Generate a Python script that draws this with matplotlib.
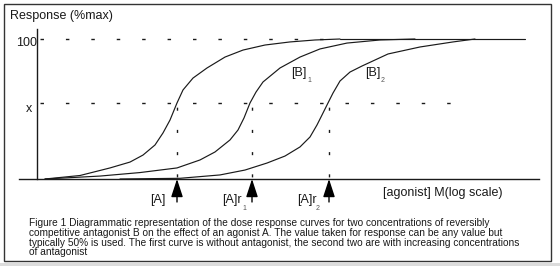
import matplotlib
matplotlib.use("Agg")
import matplotlib.pyplot as plt
from matplotlib.patches import Rectangle

plt.rcParams['font.family'] = ['Liberation Sans', 'DejaVu Sans']
plt.rcParams['lines.scale_dashes'] = False

# ---- data (x: log[agonist], arbitrary units; y: response %max) ----
curve1_x = [45, 80, 110, 130, 143, 155, 163, 170, 177, 183, 193, 207, 225, 243, 265, 290, 315, 340]
curve1_y = [0, 2.5, 7.9, 12.1, 17.1, 24.3, 32.9, 42.1, 54.3, 63.6, 72.1, 79.3, 87.1, 92.1, 95.7, 97.9, 99.3, 100]

curve2_x = [45, 100, 140, 177, 200, 215, 230, 238, 244, 250, 256, 263, 280, 300, 320, 347, 380, 415]
curve2_y = [0, 2.1, 4.6, 7.9, 13.6, 19.3, 27.9, 35, 43.6, 54.3, 62.1, 69.3, 79.3, 87.1, 92.9, 97.1, 99.3, 100]

curve3_x = [120, 180, 220, 245, 267, 285, 300, 310, 317, 322, 328, 333, 340, 350, 362, 388, 420, 453, 475]
curve3_y = [0, 0.5, 2.9, 6.4, 11.4, 16.4, 22.9, 30, 38.6, 45.7, 54.3, 61.4, 70, 76.4, 80.7, 89.3, 94.3, 97.9, 100]

plateau_x = [340, 525]
plateau_y = [100, 100]

max_level = 100
x_level = 54
x_level_end = 462
conc_points = [177, 252, 329]          # [A], [A]r1, [A]r2
conc_labels = ["[A]", "[A]r", "[A]r"]
conc_subs = ["", "1", "2"]
curve_labels = ["[B]", "[B]"]
curve_subs = ["1", "2"]
curve_label_x = [291, 365]

caption = [
    "Figure 1 Diagrammatic representation of the dose response curves for two concentrations of reversibly",
    "competitive antagonist B on the effect of an agonist A. The value taken for response can be any value but",
    "typically 50% is used. The first curve is without antagonist, the second two are with increasing concentrations",
    "of antagonist",
]

# ---- figure (pixel-like layout: y_px 179 -> 0 %, 39 -> 100 %) ----
W, H = 560, 266
fig = plt.figure(figsize=(W / 100, H / 100), dpi=100)
ax = fig.add_axes([0, 0, 1, 1])
ax.set_xlim(0, W)
y0_px, scale = 179, 1.4
ax.set_ylim((y0_px - H) / scale, y0_px / scale)
ax.axis('off')

def r(px):
    return (y0_px - px) / scale

ink = '#1a1a1a'

# frame and bottom strip
fig.patches.append(Rectangle((0, 0), 1, 3 / H, transform=fig.transFigure,
                             facecolor='#dcdcdc', edgecolor='none', zorder=0))
fig.patches.append(Rectangle((4 / W, 1 - 261 / H), (551 - 4) / W, (261 - 4) / H,
                             transform=fig.transFigure, facecolor='none',
                             edgecolor='#333333', lw=1.0, zorder=1))

# axes lines
ax.plot([37, 37], [0, r(29)], color=ink, lw=1.0)
ax.plot([19, 539], [0, 0], color=ink, lw=1.0)

# dashed reference lines
ax.plot([40, 340], [max_level, max_level], color=ink, lw=1.0, dashes=(2.5, 15.8))
ax.plot([40, x_level_end], [x_level, x_level], color=ink, lw=1.0, dashes=(2.5, 15.8))
for cx in conc_points:
    ax.plot([cx, cx], [x_level, 0], color=ink, lw=1.0, dashes=(0, 3, 2.2, 10.8))

# curves
for xs, ys in [(curve1_x, curve1_y), (curve2_x, curve2_y), (curve3_x, curve3_y), (plateau_x, plateau_y)]:
    ax.plot(xs, ys, color=ink, lw=0.85, solid_capstyle='round', solid_joinstyle='round')

# arrows
for cx in conc_points:
    ax.annotate('', xy=(cx, r(179)), xytext=(cx, r(202)),
                arrowprops=dict(arrowstyle='-|>,head_length=1.1,head_width=0.36',
                                mutation_scale=10, lw=1.0, color='black',
                                shrinkA=0, shrinkB=0))

fs = 9
# concentration labels
lab_left = [150, 222, 297]
for lx, lab in zip(lab_left, conc_labels):
    ax.text(lx, r(200), lab, fontsize=fs, ha='left', va='center', color=ink)
sub_x = [None, 242, 316]
for sx, sub in zip(sub_x, conc_subs):
    if sub:
        ax.text(sx, r(208), sub, fontsize=5, ha='left', va='center', color='#555555')

# curve labels
for lx, lab, sub in zip(curve_label_x, curve_labels, curve_subs):
    ax.text(lx, r(73), lab, fontsize=fs, ha='left', va='center', color=ink)
    ax.text(lx + 16, r(81), sub, fontsize=5, ha='left', va='center', color='#555555')

# axis texts
ax.text(10, r(16), "Response (%max)", fontsize=fs, ha='left', va='center', color=ink)
ax.text(37, r(43), "100", fontsize=fs, ha='right', va='center', color=ink)
ax.text(26, r(109), "x", fontsize=fs, ha='left', va='center', color=ink)
ax.text(383, r(193), "[agonist] M(log scale)", fontsize=fs, ha='left', va='center', color=ink)

# caption
for i, line in enumerate(caption):
    ax.text(29, r(223 + i * 9.8), line, fontsize=7.25, ha='left', va='center', color=ink)

fig.savefig('out.png', dpi=100)
